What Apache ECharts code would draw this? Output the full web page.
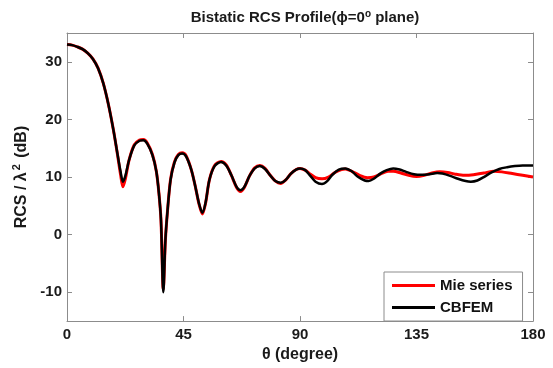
<!DOCTYPE html>
<html>
<head>
<meta charset="utf-8">
<script src="https://cdn.jsdelivr.net/npm/echarts@6/dist/echarts.min.js"></script>
<style>html,body{margin:0;padding:0;background:#fff}#c{width:553px;height:368px}</style>
</head>
<body>
<div id="c"></div>
<script>
const thetaCbfem = [0,2,4,6,8,10,12,14,16,18,19.5,20.7,21.6,22.6,24,26,28,29.5,31,33,34.5,35.5,36.3,37.2,38,38.8,40,41.5,43,44.5,46,48,49.5,51,52.3,53.5,55,57,59.5,61.5,63.5,65.5,67,68.5,70.5,72.5,74.5,76.5,78.5,80.5,82.5,84.5,86.5,88.5,90,92,94,96,98.5,100.5,102.5,105,107.5,110,112.5,115,116.5,118.5,121,123.5,126,128.5,131,134,137,140,143,145,148,151,154,156,158.5,161,164,167,170,173,176,180];
const rcsCbfem   = [33.0,32.9,32.6,32.2,31.5,30.5,28.9,26.3,22.6,18.0,14.0,10.9,9.2,10.3,13.0,15.5,16.3,16.4,15.8,13.8,11.0,7.2,2.5,-10.0,-1.0,4.0,9.5,12.5,13.8,14.1,13.6,11.3,8.5,5.4,3.8,5.5,9.5,11.9,12.6,12.0,10.3,8.3,7.7,8.3,10.2,11.5,11.9,11.4,10.3,9.3,9.0,9.5,10.6,11.3,11.5,11.2,10.2,9.2,8.8,9.3,10.4,11.3,11.5,11.0,10.0,9.4,9.3,9.7,10.6,11.2,11.5,11.3,10.9,10.5,10.4,10.5,10.7,10.6,10.2,9.7,9.3,9.2,9.4,10.0,10.8,11.4,11.7,11.9,12.0,12.0];
const thetaMie   = [0,2,4,6,8,10,12,14,16,18,19.5,20.7,21.6,22.6,24,26,28,29.5,31,33,34.5,35.5,36.3,37.2,38,38.8,40,41.5,43,44.5,46,48,49.5,51,52.3,53.5,55,57,59.5,61.5,63.5,65.5,67,68.5,70.5,72.5,74.5,76.5,78.5,80.5,82.5,84.5,86.5,88.5,90,92,94,96,98.5,101,103.5,106,107.5,110,113,116,118.5,121,124,126,129,132,135,138,141,144,147,150,153.5,157,161,165,168,172,176,180];
const rcsMie     = [33.0,32.9,32.6,32.2,31.5,30.5,28.9,26.3,22.6,18.0,13.9,10.4,8.3,9.8,13.0,15.6,16.4,16.5,15.9,13.9,11.0,7.2,2.5,-9.5,-1.0,4.0,9.6,12.6,13.9,14.2,13.7,11.3,8.5,5.3,3.6,5.4,9.5,12.0,12.7,12.1,10.3,8.2,7.5,8.2,10.2,11.6,12.0,11.5,10.3,9.3,8.9,9.5,10.6,11.3,11.5,11.2,10.5,9.9,9.7,10.0,10.8,11.3,11.4,11.0,10.3,9.9,10.0,10.5,11.0,11.0,10.7,10.3,10.1,10.3,10.7,10.9,10.8,10.5,10.3,10.4,10.7,11.0,10.9,10.6,10.3,10.0];
const xTicks = [0,45,90,135,180];
const yTicks = [-10,0,10,20,30];

const zip = (a, b) => a.map((v, i) => [v, b[i]]);
const axisGray = '#8c8c8c';
const font = 'Arial, "Liberation Sans", sans-serif';
const txt = '#1a1a1a';

const chart = echarts.init(document.getElementById('c'), null, {renderer: 'canvas'});
chart.setOption({
  animation: false,
  backgroundColor: '#fff',
  title: {
    text: 'Bistatic RCS Profile(ϕ=0{sup|o} plane)',
    left: 300, top: 4, textAlign: 'center',
    textStyle: {
      fontFamily: font, fontSize: 15, fontWeight: 'bold', color: txt,
      rich: { sup: { fontFamily: font, fontSize: 10, fontWeight: 'bold', color: txt, padding: [0,0,7,0] } }
    }
  },
  grid: { left: 67, right: 20, top: 33, bottom: 44, containLabel: false },
  legend: {
    orient: 'vertical', left: 384, top: 272,
    padding: [6, 10, 6, 8], itemGap: 7,
    itemWidth: 43, itemHeight: 3, icon: 'rect',
    borderColor: '#8c8c8c', borderWidth: 1, backgroundColor: '#fff',
    textStyle: { fontFamily: font, fontSize: 15, fontWeight: 'bold', color: '#111' },
    data: ['Mie series', 'CBFEM']
  },
  xAxis: [{
    type: 'value', min: 0, max: 180, interval: 45, position: 'bottom',
    name: 'θ (degree)', nameLocation: 'middle', nameGap: 22,
    nameTextStyle: { fontFamily: font, fontSize: 16, fontWeight: 'bold', color: txt },
    axisLine: { show: true, onZero: false, lineStyle: { color: axisGray, width: 1 } },
    axisTick: { show: true, inside: true, length: 5, lineStyle: { color: axisGray } },
    axisLabel: { customValues: xTicks, fontFamily: font, fontSize: 15, fontWeight: 'bold', color: txt, margin: 6 },
    splitLine: { show: false }
  }, {
    type: 'value', min: 0, max: 180, interval: 45, position: 'top',
    axisLine: { show: true, onZero: false, lineStyle: { color: axisGray, width: 1 } },
    axisTick: { show: true, inside: true, length: 5, lineStyle: { color: axisGray } },
    axisLabel: { show: false }, splitLine: { show: false }
  }],
  yAxis: [{
    type: 'value', min: -15, max: 35, position: 'left',
    name: 'RCS / λ{sup|2} (dB)', nameLocation: 'middle', nameGap: 26, nameRotate: 90,
    nameTextStyle: {
      fontFamily: font, fontSize: 16, fontWeight: 'bold', color: txt,
      rich: { sup: { fontFamily: font, fontSize: 11, fontWeight: 'bold', color: txt, padding: [0,2,8,2] } }
    },
    axisLine: { show: true, onZero: false, lineStyle: { color: axisGray, width: 1 } },
    axisTick: { show: true, inside: true, length: 5, customValues: yTicks, lineStyle: { color: axisGray } },
    axisLabel: { customValues: yTicks, fontFamily: font, fontSize: 15, fontWeight: 'bold', color: txt, margin: 5 },
    splitLine: { show: false }
  }, {
    type: 'value', min: -15, max: 35, position: 'right',
    axisLine: { show: true, onZero: false, lineStyle: { color: axisGray, width: 1 } },
    axisTick: { show: true, inside: true, length: 5, customValues: yTicks, lineStyle: { color: axisGray } },
    axisLabel: { show: false }, splitLine: { show: false }
  }],
  series: [{
    name: 'Mie series', type: 'line', xAxisIndex: 0, yAxisIndex: 0,
    data: zip(thetaMie, rcsMie), showSymbol: false, smooth: 0.3,
    lineStyle: { color: '#ff0000', width: 3 }, itemStyle: { color: '#ff0000' }
  }, {
    name: 'CBFEM', type: 'line', xAxisIndex: 0, yAxisIndex: 0,
    data: zip(thetaCbfem, rcsCbfem), showSymbol: false, smooth: 0.3,
    lineStyle: { color: '#000000', width: 2.5 }, itemStyle: { color: '#000000' }
  }]
});
</script>
</body>
</html>
